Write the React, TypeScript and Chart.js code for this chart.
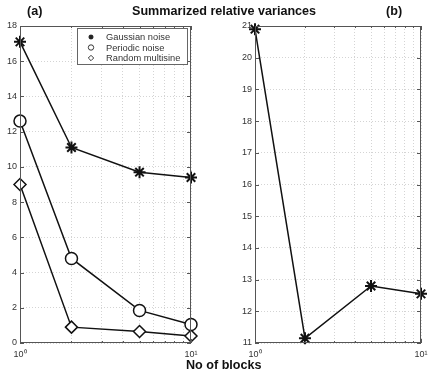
import React, { useEffect, useRef } from 'react';
import { Chart, registerables } from 'chart.js';
import { drawPoint } from 'chart.js/helpers';
Chart.register(...registerables);

const blocks = [1, 2, 5, 10];
const gaussianA = [17.1, 11.1, 9.7, 9.4];
const periodicA = [12.6, 4.8, 1.85, 1.05];
const multisineA = [9.0, 0.9, 0.65, 0.4];
const gaussianB = [20.9, 11.15, 12.8, 12.55];
const seriesNames = ['Gaussian noise', 'Periodic noise', 'Random multisine'];
const seriesStyles = ['star', 'circle', 'rectRot'];
const xGridValues = [1, 2, 3, 4, 5, 6, 7, 8, 9, 10];
const xTickLabels: Record<number, string> = { 1: '10\u2070', 10: '10\u00b9' };
const titleText = 'Summarized relative variances';
const xLabelText = 'No of blocks';
const panelLabels = ['(a)', '(b)'];

const FONT = "'Liberation Sans', Arial, sans-serif";

const framePlugin = {
  id: 'frame',
  afterDraw(chart: any) {
    const { ctx, chartArea: a, scales } = chart;
    ctx.save();
    ctx.strokeStyle = '#555';
    ctx.lineWidth = 1;
    ctx.strokeRect(Math.round(a.left) + 0.5, Math.round(a.top) + 0.5, Math.round(a.width) - 1, Math.round(a.height) - 1);
    const line = (x1: number, y1: number, x2: number, y2: number) => {
      ctx.beginPath(); ctx.moveTo(x1, y1); ctx.lineTo(x2, y2); ctx.stroke();
    };
    const ys = scales.y;
    ys.ticks.forEach((t: any) => {
      const py = Math.round(ys.getPixelForValue(t.value)) + 0.5;
      line(a.left, py, a.left + 4, py);
      line(a.right - 4, py, a.right, py);
    });
    const xs = scales.x;
    xs.ticks.forEach((t: any) => {
      const px = Math.round(xs.getPixelForValue(t.value)) + 0.5;
      const len = t.value === 1 || t.value === 10 ? 4 : 2;
      line(px, a.bottom, px, a.bottom - len);
      line(px, a.top, px, a.top + len);
    });
    ctx.restore();
  },
};

const legendPlugin = {
  id: 'boxLegend',
  afterDraw(chart: any) {
    const { ctx } = chart;
    ctx.save();
    const x0 = 77, y0 = 28, w = 110, h = 36;
    ctx.fillStyle = '#fff';
    ctx.fillRect(x0, y0, w, h);
    ctx.strokeStyle = '#666';
    ctx.lineWidth = 1;
    ctx.strokeRect(x0 + 0.5, y0 + 0.5, w, h);
    ctx.font = `9.3px ${FONT}`;
    ctx.textBaseline = 'middle';
    seriesNames.forEach((name, i) => {
      const cy = y0 + 9 + i * 10.5;
      ctx.strokeStyle = '#222';
      ctx.fillStyle = '#fff';
      ctx.lineWidth = i === 0 ? 1.3 : 0.9;
      drawPoint(ctx, { pointStyle: seriesStyles[i], radius: i === 0 ? 2.5 : 2.7, borderWidth: ctx.lineWidth, rotation: 0 } as any, 91, cy);
      ctx.fillStyle = '#333';
      ctx.fillText(name, 106, cy + 0.5);
    });
    ctx.restore();
  },
};

function makeDataset(label: string, style: string, values: number[], radius: number, bw: number) {
  return {
    label,
    data: blocks.map((b, i) => ({ x: b, y: values[i] })),
    borderColor: '#111',
    backgroundColor: '#fff',
    borderWidth: 1.5,
    pointStyle: style,
    pointRadius: radius,
    pointBorderWidth: bw,
    pointBorderColor: '#111',
    pointBackgroundColor: '#fff',
    clip: false,
    tension: 0,
  };
}

function makeOptions(yMin: number, yMax: number, step: number, yWidth: number, padRight: number) {
  const tickFont = { family: FONT, size: 9 };
  return {
    responsive: false,
    animation: false,
    layout: { padding: { top: 26, right: padRight, left: 0, bottom: 0 } },
    plugins: { legend: { display: false }, tooltip: { enabled: false }, title: { display: false } },
    scales: {
      x: {
        type: 'logarithmic',
        min: 1,
        max: 10,
        afterBuildTicks(s: any) { s.ticks = xGridValues.map((v) => ({ value: v, major: v === 1 || v === 10 })); },
        afterFit(s: any) { s.height = 31; s.paddingLeft = 0; s.paddingRight = 0; },
        ticks: {
          autoSkip: false,
          maxRotation: 0,
          color: '#333',
          font: tickFont,
          padding: 6,
          callback: (v: any) => xTickLabels[Number(v)] ?? '',
        },
        grid: { color: '#d4d4d4', lineWidth: 1, drawTicks: false },
        border: { display: false, dash: [1, 2] },
      },
      y: {
        min: yMin,
        max: yMax,
        afterFit(s: any) { s.width = yWidth; s.paddingTop = 0; s.paddingBottom = 0; },
        ticks: { stepSize: step, color: '#333', font: tickFont, padding: 3 },
        grid: { color: '#d4d4d4', lineWidth: 1, drawTicks: false },
        border: { display: false, dash: [1, 2] },
      },
    },
  };
}

function Panel(props: { left: number; width: number; config: any }) {
  const ref = useRef<HTMLCanvasElement>(null);
  useEffect(() => {
    const chart = new Chart(ref.current as HTMLCanvasElement, props.config);
    return () => chart.destroy();
  }, []);
  return (
    <canvas
      ref={ref}
      width={props.width}
      height={374}
      style={{ position: 'absolute', left: props.left, top: 0, width: props.width, height: 374 }}
    />
  );
}

export default function App() {
  const configA = {
    type: 'line',
    data: {
      datasets: [
        makeDataset(seriesNames[0], 'star', gaussianA, 6, 2),
        makeDataset(seriesNames[1], 'circle', periodicA, 6, 1.5),
        makeDataset(seriesNames[2], 'rectRot', multisineA, 6, 1.5),
      ],
    },
    options: makeOptions(0, 18, 2, 20, 14),
    plugins: [framePlugin, legendPlugin],
  };
  const configB = {
    type: 'line',
    data: { datasets: [makeDataset(seriesNames[0], 'star', gaussianB, 6, 2)] },
    options: makeOptions(11, 21, 1, 42, 6),
    plugins: [framePlugin],
  };
  const textBase: React.CSSProperties = {
    position: 'absolute',
    fontFamily: FONT,
    fontWeight: 'bold',
    fontSize: 12.6,
    lineHeight: '14px',
    color: '#111',
    whiteSpace: 'nowrap',
  };
  return (
    <div style={{ position: 'absolute', left: 0, top: 0, width: 429, height: 374, overflow: 'hidden', background: '#fff' }}>
      <Panel left={0} width={205} config={configA} />
      <Panel left={213} width={216} config={configB} />
      <div style={{ ...textBase, left: 132, top: 4 }}>{titleText}</div>
      <div style={{ ...textBase, left: 27, top: 4 }}>{panelLabels[0]}</div>
      <div style={{ ...textBase, left: 386, top: 4 }}>{panelLabels[1]}</div>
      <div style={{ ...textBase, left: 186, top: 358 }}>{xLabelText}</div>
    </div>
  );
}
